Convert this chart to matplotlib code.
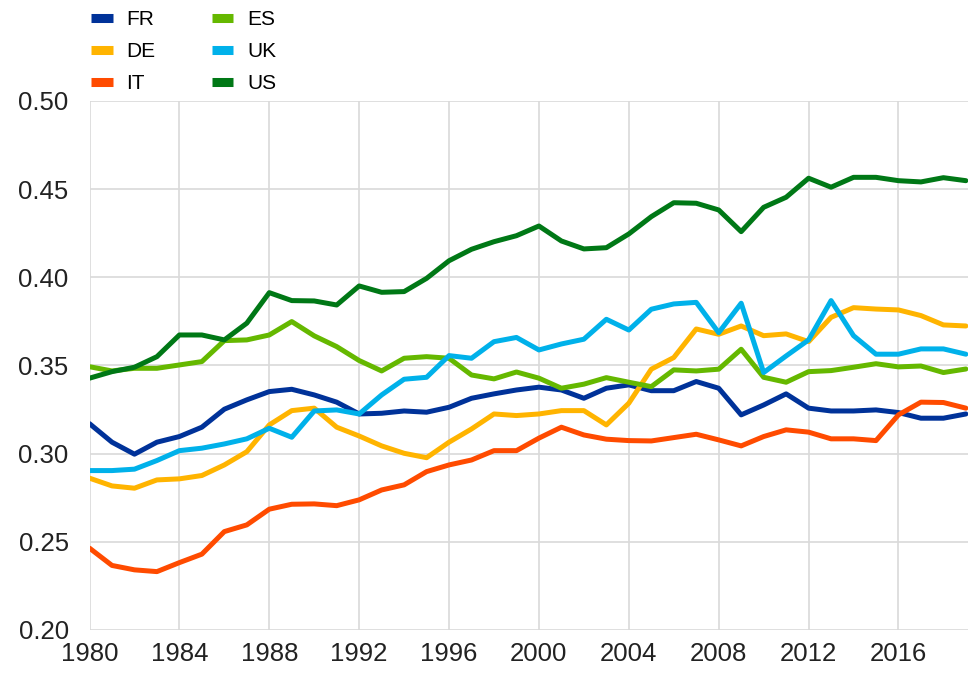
import matplotlib.pyplot as plt

plt.rcParams['font.family'] = ['Liberation Sans', 'DejaVu Sans']

years = list(range(1980, 2020))

fr = [0.317, 0.3065, 0.2997, 0.3065, 0.3097, 0.315, 0.3252, 0.3305, 0.3352, 0.3365,
      0.3333, 0.3292, 0.3225, 0.3229, 0.3242, 0.3235, 0.3263, 0.3314, 0.3339, 0.3361,
      0.3377, 0.3361, 0.3314, 0.3371, 0.339, 0.3357, 0.3357, 0.3409, 0.3371, 0.322,
      0.3276, 0.3339, 0.3258, 0.3242, 0.3242, 0.3248, 0.3233, 0.3201, 0.3201, 0.3225]
de = [0.2861, 0.2817, 0.2804, 0.2851, 0.2857, 0.2876, 0.2936, 0.3011, 0.3163, 0.3244,
      0.3258, 0.315, 0.31, 0.3044, 0.3002, 0.2977, 0.3065, 0.314, 0.3225, 0.3216,
      0.3225, 0.3244, 0.3244, 0.3163, 0.3286, 0.3479, 0.3545, 0.3707, 0.3677, 0.3724,
      0.3669, 0.3679, 0.3635, 0.3773, 0.3828, 0.382, 0.3815, 0.3783, 0.373, 0.3724]
it = [0.2464, 0.2366, 0.2341, 0.2331, 0.2382, 0.243, 0.2558, 0.2596, 0.2685, 0.2713,
      0.2715, 0.2705, 0.2738, 0.2794, 0.2823, 0.2898, 0.2936, 0.2964, 0.3017, 0.3017,
      0.3088, 0.315, 0.3106, 0.3082, 0.3074, 0.3072, 0.3091, 0.311, 0.3078, 0.3044,
      0.3097, 0.3135, 0.3122, 0.3084, 0.3084, 0.3074, 0.322, 0.3292, 0.329, 0.3258]
es = [0.3493, 0.3469, 0.3484, 0.3484, 0.3503, 0.3522, 0.3641, 0.3645, 0.3673, 0.3749,
      0.3668, 0.3607, 0.3528, 0.3469, 0.3541, 0.355, 0.3541, 0.3446, 0.3424, 0.3463,
      0.3428, 0.3371, 0.3394, 0.3431, 0.3405, 0.338, 0.3475, 0.3469, 0.3479, 0.3592,
      0.3433, 0.3405, 0.3465, 0.3471, 0.349, 0.351, 0.3492, 0.3497, 0.346, 0.348]
uk = [0.2904, 0.2904, 0.2912, 0.2961, 0.3017, 0.3031, 0.3055, 0.3084, 0.3144, 0.3093,
      0.3242, 0.3248, 0.3225, 0.3333, 0.3422, 0.3433, 0.3556, 0.3541, 0.3635, 0.3659,
      0.3588, 0.3622, 0.3649, 0.3762, 0.3701, 0.3819, 0.3849, 0.3858, 0.3686, 0.3853,
      0.346, 0.3554, 0.3645, 0.3868, 0.3669, 0.3564, 0.3564, 0.3594, 0.3594, 0.3564]
us = [0.3428, 0.3465, 0.349, 0.355, 0.3673, 0.3673, 0.3645, 0.374, 0.3913, 0.3868,
      0.3866, 0.3843, 0.3951, 0.3915, 0.3919, 0.3994, 0.4094, 0.4159, 0.4202, 0.4236,
      0.4291, 0.4206, 0.4161, 0.4168, 0.4246, 0.4344, 0.4423, 0.442, 0.4382, 0.4259,
      0.4397, 0.4454, 0.4562, 0.4511, 0.4567, 0.4567, 0.4548, 0.4541, 0.4565, 0.4548]

labels = ['FR', 'DE', 'IT', 'ES', 'UK', 'US']
colors = ['#003299', '#ffb400', '#ff4b00', '#65b800', '#00b1ea', '#007816']
series = [fr, de, it, es, uk, us]

fig = plt.figure(figsize=(9.73, 6.75), dpi=100)
ax = fig.add_axes([0.092, 0.0667, 0.903, 0.7837])

for vals, lab, col in zip(series, labels, colors):
    ax.plot(years, vals, color=col, linewidth=3.6, label=lab, solid_capstyle='round')

ax.set_xlim(1980, 2019.1)
ax.set_ylim(0.20, 0.50)
ax.set_xticks(range(1980, 2019, 4))
ax.set_yticks([0.20, 0.25, 0.30, 0.35, 0.40, 0.45, 0.50])
ax.set_yticklabels(['0.20', '0.25', '0.30', '0.35', '0.40', '0.45', '0.50'])
ax.grid(True, color='#d9d9d9', linewidth=1.2)
ax.set_axisbelow(True)
for s in ax.spines.values():
    s.set_visible(False)
ax.tick_params(length=0, labelsize=18.5, colors='#222222')
ax.tick_params(axis='y', pad=15)
ax.tick_params(axis='x', pad=9)

# legend, two columns top left
leg = fig.legend(loc='upper left', bbox_to_anchor=(0.074, 1.013), ncol=2,
                 frameon=False, fontsize=15, handlelength=1.05, handletextpad=0.65,
                 columnspacing=2.7, labelspacing=0.62)
for h in leg.get_lines():
    h.set_linewidth(6.5)
    h.set_solid_capstyle('butt')

fig.savefig('out.png', dpi=100)
